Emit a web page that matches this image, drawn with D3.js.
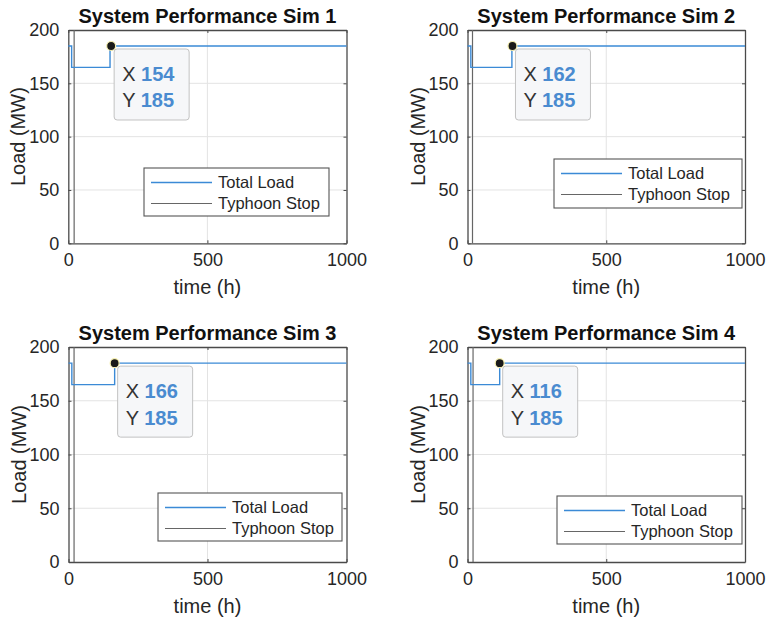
<!DOCTYPE html>
<html>
<head>
<meta charset="utf-8">
<script src="https://cdn.jsdelivr.net/npm/d3@7"></script>
<style>
  html, body { margin: 0; padding: 0; background: #fff; }
  svg { display: block; font-family: "Liberation Sans", Arial, Helvetica, sans-serif; }
</style>
</head>
<body>
<svg id="chart" width="769" height="623"></svg>
<script>
// ---- data ----
const simNames = ["System Performance Sim 1", "System Performance Sim 2", "System Performance Sim 3", "System Performance Sim 4"];
const timeSim1 = [0, 12, 12, 150, 150, 1000];
const timeSim2 = [0, 12, 12, 160, 160, 1000];
const timeSim3 = [0, 12, 12, 166, 166, 1000];
const timeSim4 = [0, 12, 12, 116, 116, 1000];
const loadSim1 = [185, 185, 165, 165, 185, 185];
const loadSim2 = [185, 185, 165, 165, 185, 185];
const loadSim3 = [185, 185, 165, 165, 185, 185];
const loadSim4 = [185, 185, 165, 165, 185, 185];
const typhoonStop = [21, 18, 20, 20];           // time (h) of the typhoon stop line
const tipX = [154, 162, 166, 116];              // datatip X
const tipY = [185, 185, 185, 185];              // datatip Y
const xTicks = [0, 500, 1000];
const yTicks = [0, 50, 100, 150, 200];
const legendLabels = ["Total Load", "Typhoon Stop"];

const times = [timeSim1, timeSim2, timeSim3, timeSim4];
const loads = [loadSim1, loadSim2, loadSim3, loadSim4];

// ---- layout ----
const axesRects = [
  {x0: 68.3, x1: 346.5, y0: 30, y1: 243.3},
  {x0: 467.5, x1: 745, y0: 30, y1: 243.3},
  {x0: 68.5, x1: 346.5, y0: 347, y1: 562},
  {x0: 467.5, x1: 745, y0: 347, y1: 562}
];
// legend box position relative to axes origin (px)
const legendPos = [
  {x: 75.7, y: 138, w: 185, h: 48},
  {x: 86.5, y: 129, w: 188, h: 49},
  {x: 89.5, y: 146, w: 184, h: 48},
  {x: 89.5, y: 149, w: 185, h: 48}
];

const blue = "#3b8ad6";
const textCol = "#262626";
const axisCol = "#4a4a4a";
const gridCol = "#e3e3e3";

const svg = d3.select("#chart");

axesRects.forEach((r, i) => {
  const x = d3.scaleLinear().domain([0, 1000]).range([r.x0, r.x1]);
  const y = d3.scaleLinear().domain([0, 200]).range([r.y1, r.y0]);
  const g = svg.append("g");

  // grid
  g.append("g").selectAll("line.gx").data(xTicks.slice(1, -1)).join("line")
    .attr("x1", d => x(d)).attr("x2", d => x(d)).attr("y1", r.y0).attr("y2", r.y1)
    .attr("stroke", gridCol).attr("stroke-width", 1);
  g.append("g").selectAll("line.gy").data(yTicks.slice(1, -1)).join("line")
    .attr("y1", d => y(d)).attr("y2", d => y(d)).attr("x1", r.x0).attr("x2", r.x1)
    .attr("stroke", gridCol).attr("stroke-width", 1);

  // axes via d3 axis (inward ticks)
  const fmt = d3.format("d");
  const axB = g.append("g").attr("transform", `translate(0,${r.y1})`)
    .call(d3.axisBottom(x).tickValues(xTicks).tickFormat(fmt).tickSize(-3).tickPadding(10).tickSizeOuter(0));
  const axT = g.append("g").attr("transform", `translate(0,${r.y0})`)
    .call(d3.axisTop(x).tickValues(xTicks).tickSize(-3).tickFormat("").tickSizeOuter(0));
  const axL = g.append("g").attr("transform", `translate(${r.x0},0)`)
    .call(d3.axisLeft(y).tickValues(yTicks).tickFormat(fmt).tickSize(-3).tickPadding(9).tickSizeOuter(0));
  const axR = g.append("g").attr("transform", `translate(${r.x1},0)`)
    .call(d3.axisRight(y).tickValues(yTicks).tickSize(-3).tickFormat("").tickSizeOuter(0));
  [axB, axT, axL, axR].forEach(a => {
    a.select(".domain").attr("stroke", axisCol).attr("stroke-width", 1.3);
    a.selectAll(".tick line").attr("stroke", axisCol).attr("stroke-width", 1);
    a.selectAll(".tick text").attr("fill", textCol).style("font-size", "18px")
      .style("font-family", "'Liberation Sans', Arial, sans-serif");
  });
  axB.selectAll(".tick text").attr("dy", "0.71em");

  // typhoon stop line
  g.append("line")
    .attr("x1", x(typhoonStop[i])).attr("x2", x(typhoonStop[i]))
    .attr("y1", y(0)).attr("y2", y(200))
    .attr("stroke", "#666").attr("stroke-width", 1.2);

  // total load line
  const pts = times[i].map((t, k) => [t, loads[i][k]]);
  g.append("path").datum(pts)
    .attr("fill", "none").attr("stroke", blue).attr("stroke-width", 1.4)
    .attr("d", d3.line().x(d => x(d[0])).y(d => y(d[1])));

  // datatip marker
  const mx = x(tipX[i]), my = y(tipY[i]);
  g.append("circle").attr("cx", mx).attr("cy", my).attr("r", 4.5)
    .attr("fill", "#1a1a1a").attr("stroke", "#f6f0b0").attr("stroke-width", 1.2);
  const tip = g.append("g").attr("transform", `translate(${mx + 3},${my + 3})`);
  tip.append("rect").attr("width", 75).attr("height", 71).attr("rx", 3).attr("ry", 3)
    .attr("fill", "#f6f7f9").attr("stroke", "#c2c2c2").attr("stroke-width", 1);
  [["X", tipX[i]], ["Y", tipY[i]]].forEach((row, k) => {
    const t = tip.append("text").attr("x", 8).attr("y", 25 + k * 26.5)
      .attr("dy", "0.35em").style("font-size", "20px");
    t.append("tspan").attr("fill", "#333").text(row[0] + " ");
    t.append("tspan").attr("fill", "#4a8bd0").attr("font-weight", "bold").text(row[1]);
  });

  // legend
  const lp = legendPos[i];
  const lg = g.append("g").attr("transform", `translate(${r.x0 + lp.x},${r.y0 + lp.y})`);
  lg.append("rect").attr("width", lp.w).attr("height", lp.h)
    .attr("fill", "#fff").attr("stroke", "#555").attr("stroke-width", 1.1);
  const legCols = [blue, "#666"];
  legendLabels.forEach((lab, k) => {
    const yy = 14.5 + k * 21;
    lg.append("line").attr("x1", 7).attr("x2", 68).attr("y1", yy).attr("y2", yy)
      .attr("stroke", legCols[k]).attr("stroke-width", k === 0 ? 1.4 : 1.2);
    lg.append("text").attr("x", 74).attr("y", yy).attr("dy", "0.35em")
      .attr("fill", textCol).style("font-size", "16.5px").text(lab);
  });

  // title
  g.append("text").attr("x", (r.x0 + r.x1) / 2).attr("y", r.y0 - 7)
    .attr("text-anchor", "middle").attr("font-weight", "bold").attr("fill", "#111")
    .style("font-size", "20px").text(simNames[i]);

  // axis labels
  g.append("text").attr("x", (r.x0 + r.x1) / 2).attr("y", r.y1 + 44).attr("dy", "0.35em")
    .attr("text-anchor", "middle").attr("fill", textCol).style("font-size", "20px").text("time (h)");
  g.append("text")
    .attr("transform", `translate(${r.x0 - 50},${(r.y0 + r.y1) / 2}) rotate(-90)`)
    .attr("dy", "0.35em").attr("text-anchor", "middle").attr("fill", textCol)
    .style("font-size", "20px").text("Load (MW)");
});
</script>
</body>
</html>
